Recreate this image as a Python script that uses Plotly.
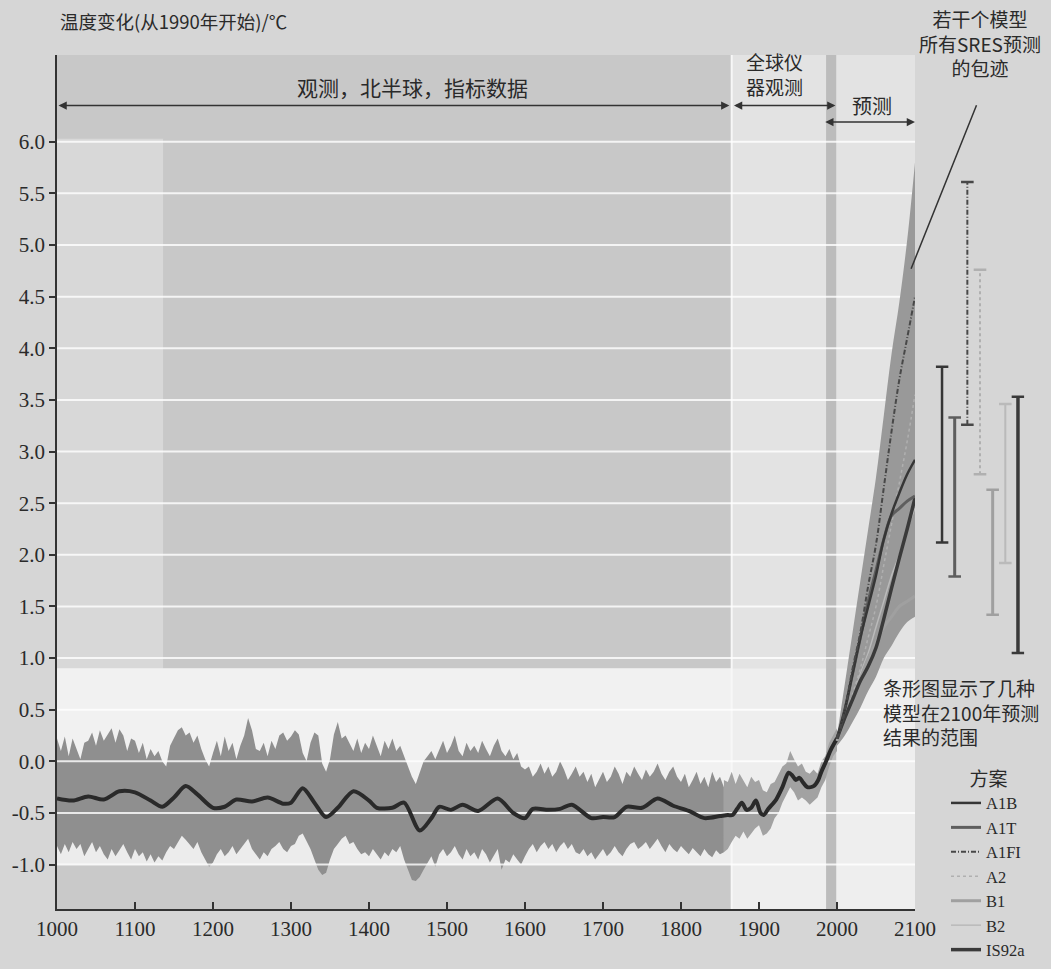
import plotly.graph_objects as go

# ---------------- data ----------------
proxy_years = list(range(1000, 1860, 5))
proxy_upper = [
    0.22, 0.10, 0.24, 0.05, 0.22, 0.12, 0.02, 0.18, 0.20, 0.28,
    0.15, 0.30, 0.20, 0.26, 0.32, 0.18, 0.31, 0.25, 0.10, 0.22,
    0.20, 0.08, 0.18, 0.02, 0.12, 0.05, 0.10, 0.00, -0.05, 0.15,
    0.22, 0.30, 0.33, 0.25, 0.28, 0.18, 0.25, 0.12, 0.02, -0.05,
    0.08, 0.20, 0.05, 0.24, 0.10, 0.18, 0.02, 0.15, 0.25, 0.42,
    0.30, 0.12, 0.10, 0.18, 0.05, 0.20, 0.12, 0.25, 0.28, 0.20,
    0.24, 0.30, 0.26, 0.08, 0.00, 0.18, 0.28, 0.25, -0.02, -0.10,
    0.02, 0.26, 0.38, 0.22, 0.25, 0.18, 0.10, 0.22, 0.08, 0.18,
    0.12, 0.25, 0.15, 0.05, 0.20, 0.12, 0.22, 0.10, 0.15, 0.05,
    -0.05, -0.15, -0.22, -0.10, 0.00, 0.05, 0.10, 0.02, 0.12, 0.20,
    0.08, 0.15, 0.25, 0.10, 0.05, 0.18, 0.10, 0.15, 0.08, 0.20,
    0.12, 0.05, 0.15, 0.22, 0.10, 0.05, 0.12, 0.02, 0.08, -0.05,
    -0.08, -0.05, -0.15, -0.10, -0.02, -0.12, -0.05, -0.15, -0.10, 0.00,
    -0.08, -0.18, -0.12, -0.05, -0.15, -0.10, -0.20, -0.12, -0.25, -0.18,
    -0.10, -0.20, -0.15, -0.05, -0.12, -0.22, -0.10, -0.15, -0.05, -0.12,
    -0.18, -0.08, -0.15, -0.10, -0.02, -0.12, -0.18, -0.10, -0.05, -0.15,
    -0.20, -0.12, -0.25, -0.18, -0.10, -0.22, -0.15, -0.25, -0.10, -0.20,
    -0.15, -0.25,
]
proxy_lower = [
    -0.82, -0.90, -0.80, -0.88, -0.78, -0.85, -0.80, -0.92, -0.85, -0.78,
    -0.88, -0.82, -0.90, -0.95, -0.85, -0.92, -0.86, -0.80, -0.88, -0.95,
    -0.85, -0.92, -0.88, -0.97, -0.90, -0.98, -0.92, -0.96, -0.88, -0.82,
    -0.85, -0.78, -0.72, -0.76, -0.80, -0.85, -0.78, -0.88, -0.95, -1.02,
    -0.98, -0.90, -0.85, -0.92, -0.88, -0.82, -0.90, -0.85, -0.80, -0.75,
    -0.85, -0.90, -0.95, -0.88, -0.92, -0.85, -0.82, -0.78, -0.85, -0.88,
    -0.82, -0.80, -0.72, -0.70, -0.78, -0.85, -0.95, -1.05, -1.10, -1.08,
    -0.95, -0.85, -0.80, -0.75, -0.72, -0.80, -0.78, -0.85, -0.90, -0.88,
    -0.92, -0.85, -0.90, -0.95, -0.88, -0.92, -0.85, -0.88, -0.82, -0.95,
    -1.05, -1.15, -1.16, -1.12, -1.05, -0.98, -0.92, -1.02, -0.90, -0.85,
    -0.92, -0.88, -0.82, -0.90, -0.95, -0.85, -0.92, -0.88, -0.95, -0.85,
    -0.90, -0.98, -0.92, -0.85, -1.05, -0.95, -0.98, -0.90, -0.95, -1.00,
    -0.92, -0.85, -0.80, -0.88, -0.82, -0.78, -0.85, -0.80, -0.88, -0.82,
    -0.78, -0.85, -0.80, -0.88, -0.90, -0.85, -0.92, -0.88, -0.95, -0.90,
    -0.85, -0.92, -0.88, -0.82, -0.88, -0.92, -0.85, -0.80, -0.78, -0.85,
    -0.82, -0.78, -0.85, -0.80, -0.75, -0.82, -0.88, -0.80, -0.85, -0.88,
    -0.82, -0.86, -0.90, -0.84, -0.88, -0.92, -0.85, -0.90, -0.93, -0.86,
    -0.90, -0.88,
]

instr_years = list(range(1855, 2005, 5))
instr_upper = [-0.18, -0.20, -0.10, -0.22, -0.12, -0.18, -0.25, -0.15, -0.20, -0.18,
               -0.28, -0.30, -0.22, -0.20, -0.12, -0.05, -0.02, 0.10, 0.02, -0.05,
               -0.02, -0.10, -0.12, -0.08, -0.12, 0.00, 0.05, 0.18, 0.25, 0.32]
instr_lower = [-0.88, -0.85, -0.78, -0.72, -0.75, -0.68, -0.75, -0.70, -0.65, -0.62,
               -0.72, -0.70, -0.65, -0.55, -0.50, -0.40, -0.32, -0.25, -0.30, -0.38,
               -0.35, -0.38, -0.42, -0.38, -0.35, -0.25, -0.18, -0.05, 0.05, 0.10]

smooth_years = [1000, 1020, 1040, 1060, 1080, 1100, 1120, 1135, 1150, 1165,
                1180, 1200, 1215, 1230, 1250, 1270, 1290, 1300, 1315, 1330,
                1345, 1360, 1380, 1400, 1410, 1430, 1445, 1465, 1480, 1490,
                1505, 1520, 1540, 1565, 1585, 1600, 1610, 1630, 1645, 1660,
                1685, 1700, 1715, 1730, 1750, 1770, 1790, 1810, 1830, 1850,
                1860, 1866, 1872, 1878, 1884, 1890, 1896, 1902, 1906, 1912,
                1922, 1930, 1938, 1943, 1947, 1952, 1956, 1962, 1970, 1976,
                1980, 1986, 1992, 2000]
smooth_vals = [-0.36, -0.38, -0.34, -0.37, -0.29, -0.30, -0.38, -0.44, -0.35, -0.24,
               -0.32, -0.45, -0.44, -0.37, -0.39, -0.35, -0.41, -0.40, -0.26, -0.40,
               -0.54, -0.45, -0.29, -0.38, -0.45, -0.45, -0.40, -0.67, -0.55, -0.44,
               -0.47, -0.42, -0.48, -0.36, -0.50, -0.55, -0.46, -0.47, -0.46, -0.42,
               -0.55, -0.54, -0.54, -0.44, -0.45, -0.36, -0.43, -0.48, -0.55, -0.53,
               -0.52, -0.52, -0.46, -0.40, -0.47, -0.45, -0.38, -0.50, -0.52, -0.46,
               -0.37, -0.25, -0.11, -0.14, -0.18, -0.16, -0.20, -0.25, -0.24, -0.18,
               -0.10, 0.00, 0.11, 0.22]

proj_years = [2000, 2010, 2020, 2030, 2040, 2050, 2060, 2070, 2080, 2090, 2100]
env_upper = [0.25, 0.75, 1.25, 1.75, 2.25, 2.75, 3.35, 3.95, 4.45, 5.05, 5.80]
env_lower = [0.15, 0.25, 0.38, 0.52, 0.68, 0.82, 1.00, 1.12, 1.25, 1.35, 1.40]

scenarios = ["A1B", "A1T", "A1FI", "A2", "B1", "B2", "IS92a"]
proj_A1B = [0.22, 0.50, 0.85, 1.20, 1.50, 1.80, 2.15, 2.40, 2.60, 2.78, 2.92]
proj_A1T = [0.22, 0.50, 0.85, 1.20, 1.55, 1.85, 2.15, 2.38, 2.45, 2.52, 2.57]
proj_A1FI = [0.22, 0.50, 0.90, 1.25, 1.70, 2.10, 2.65, 3.20, 3.70, 4.10, 4.50]
proj_A2 = [0.20, 0.40, 0.65, 0.90, 1.20, 1.50, 1.90, 2.30, 2.70, 3.10, 3.55]
proj_B1 = [0.20, 0.40, 0.60, 0.80, 1.00, 1.15, 1.30, 1.40, 1.50, 1.55, 1.60]
proj_B2 = [0.20, 0.40, 0.60, 0.85, 1.05, 1.30, 1.55, 1.80, 2.00, 2.25, 2.45]
proj_IS92a = [0.22, 0.42, 0.60, 0.78, 0.92, 1.10, 1.38, 1.68, 1.97, 2.25, 2.55]

range_low = [2.12, 1.79, 3.26, 2.78, 1.42, 1.92, 1.05]
range_high = [3.82, 3.33, 5.61, 4.76, 2.63, 3.46, 3.53]

y_tickvals = [-1.0, -0.5, 0.0, 0.5, 1.0, 1.5, 2.0, 2.5, 3.0, 3.5, 4.0, 4.5, 5.0, 5.5, 6.0]
y_ticktext = ["-1.0", "-0.5", "0.0", "0.5", "1.0", "1.5", "2.0", "2.5", "3.0", "3.5",
              "4.0", "4.5", "5.0", "5.5", "6.0"]
x_tickvals = [1000, 1100, 1200, 1300, 1400, 1500, 1600, 1700, 1800, 1900, 2000, 2100]

# ---------------- styles ----------------
styles = {
    "A1B": dict(color="#363636", width=2.5, dash="solid"),
    "A1T": dict(color="#5e5e5e", width=3.0, dash="solid"),
    "A1FI": dict(color="#484848", width=2.0, dash="5px,2px,1px,2px"),
    "A2": dict(color="#b0b0b0", width=1.5, dash="dot"),
    "B1": dict(color="#a0a0a0", width=3.0, dash="solid"),
    "B2": dict(color="#bababa", width=1.5, dash="solid"),
    "IS92a": dict(color="#3a3a3a", width=3.5, dash="solid"),
}
proj_series = {"A1B": proj_A1B, "A1T": proj_A1T, "A1FI": proj_A1FI, "A2": proj_A2,
               "B1": proj_B1, "B2": proj_B2, "IS92a": proj_IS92a}

W, H = 1051, 969
ML, MR, MT, MB = 57, 20, 55, 60
PW, PH = W - ML - MR, H - MT - MB


def pxx(x):
    return (x - ML) / PW


def pxy(y):
    return 1 - (y - MT) / PH


CJK = "Noto Sans CJK SC"
SERIF = "'Liberation Serif', 'Times New Roman', Times, serif"
TXT = "#2a2a2a"
Y0, Y1 = -1.43, 6.84
X0, X1 = 1000, 2100

fig = go.Figure()

# proxy band
fig.add_trace(go.Scatter(x=proxy_years, y=proxy_lower, mode="lines", line=dict(width=0),
                         showlegend=False, hoverinfo="skip"))
fig.add_trace(go.Scatter(x=proxy_years, y=proxy_upper, mode="lines", line=dict(width=0),
                         fill="tonexty", fillcolor="#8f8f8f", showlegend=False, hoverinfo="skip"))
# instrumental band
fig.add_trace(go.Scatter(x=instr_years, y=instr_lower, mode="lines", line=dict(width=0),
                         showlegend=False, hoverinfo="skip"))
fig.add_trace(go.Scatter(x=instr_years, y=instr_upper, mode="lines", line=dict(width=0),
                         fill="tonexty", fillcolor="#a2a2a2", showlegend=False, hoverinfo="skip"))

# white grid lines (over the bands, under the curves), built from the tick list
gx, gy = [], []
for v in y_tickvals:
    gx += [X0, X1, None]
    gy += [v, v, None]
fig.add_trace(go.Scatter(x=gx, y=gy, mode="lines", line=dict(color="rgba(255,255,255,0.8)", width=2),
                         showlegend=False, hoverinfo="skip"))

# envelope of projections
fig.add_trace(go.Scatter(x=proj_years, y=env_lower, mode="lines", line=dict(width=0, shape="spline"),
                         showlegend=False, hoverinfo="skip"))
fig.add_trace(go.Scatter(x=proj_years, y=env_upper, mode="lines", line=dict(width=0, shape="spline"),
                         fill="tonexty", fillcolor="#999999", showlegend=False, hoverinfo="skip"))

# smoothed reconstruction + instrumental
fig.add_trace(go.Scatter(x=smooth_years, y=smooth_vals, mode="lines",
                         line=dict(color="#2a2a2a", width=4, shape="spline", smoothing=0.8),
                         showlegend=False, hoverinfo="skip"))

# projection lines (legend entries)
draw_order = ["A2", "B2", "B1", "IS92a", "A1T", "A1B", "A1FI"]
for name in draw_order:
    st = styles[name]
    fig.add_trace(go.Scatter(x=proj_years, y=proj_series[name], mode="lines", name=name,
                             line=dict(color=st["color"], width=st["width"], dash=st["dash"], shape="spline"),
                             legendrank=scenarios.index(name) + 1, hoverinfo="skip"))

# range bars at 2100
for i, name in enumerate(scenarios):
    st = styles[name]
    fig.add_trace(go.Scatter(x=[name, name], y=[range_low[i], range_high[i]], xaxis="x2", yaxis="y2",
                             mode="lines+markers",
                             line=dict(color=st["color"], width=max(st["width"], 2), dash=st["dash"]),
                             marker=dict(symbol="line-ew", size=9,
                                         line=dict(color=st["color"], width=2.5)),
                             showlegend=False, hoverinfo="skip"))

# ---------------- background regions ----------------
shapes = []


def rect(x0, x1, y0, y1, color):
    shapes.append(dict(type="rect", xref="x", yref="y", x0=x0, x1=x1, y0=y0, y1=y1,
                       fillcolor=color, line=dict(width=0), layer="below"))


rect(X0, X1, Y0, Y1, "#e3e3e3")
rect(X0, 1865, 0.9, Y1, "#d8d8d8")
rect(1136, 1865, 0.9, Y1, "#c8c8c8")
rect(X0, 1865, 6.03, Y1, "#c8c8c8")
rect(X0, 1865, -1.0, 0.9, "#ececec")
rect(X0, 1865, -0.25, 0.9, "#f1f1f1")
rect(X0, 1865, Y0, -1.0, "#c9c9c9")
rect(1865, X1, Y0, 0.9, "#eeeeee")
rect(1986, 1999, Y0, Y1, "#bcbcbc")
shapes.append(dict(type="line", xref="x", yref="y", x0=1865, x1=1865, y0=Y0, y1=Y1,
                   line=dict(color="#f7f7f7", width=2), layer="below"))

# ---------------- annotations ----------------
ann = []


def text(x, y, s, size=19, anchor="center", family=CJK):
    ann.append(dict(x=pxx(x), y=pxy(y), xref="paper", yref="paper", text=s, showarrow=False,
                    xanchor=anchor, yanchor="middle", align=anchor if anchor != "center" else "center",
                    font=dict(family=family, size=size, color=TXT)))


text(58, 21, "温度变化(从1990年开始)/℃", size=18.5, anchor="left")
text(412, 87, "观测，北半球，指标数据", size=21)
text(774, 74, "全球仪<br>器观测", size=19)
text(872, 106, "预测", size=20)
text(980, 43, "若干个模型<br>所有SRES预测<br>的包迹", size=19)
text(881, 712, "条形图显示了几种<br>模型在2100年预测<br>结果的范围", size=19, anchor="left")


def darrow(xa, xb, y):
    ann.append(dict(x=xb, y=y, ax=xa, ay=y, xref="x", yref="y", axref="x", ayref="y", text="",
                    showarrow=True, arrowside="end+start", arrowhead=2, arrowsize=1.1,
                    arrowwidth=1.5, arrowcolor="#333333", standoff=0, startstandoff=0))


darrow(1000, 1862, 6.35)
darrow(1866, 1998, 6.35)
darrow(1983, 2100, 6.19)

ann.append(dict(x=2095, y=4.77, xref="x", yref="y", ax=66, ay=-165, text="", showarrow=True,
                arrowhead=0, arrowwidth=1.5, arrowcolor="#333333"))

fig.update_layout(
    width=W, height=H,
    margin=dict(l=ML, r=MR, t=MT, b=MB, pad=0, autoexpand=False),
    paper_bgcolor="#d6d6d6",
    plot_bgcolor="rgba(0,0,0,0)",
    shapes=shapes,
    annotations=ann,
    showlegend=True,
    legend=dict(
        x=pxx(946), y=pxy(761), xanchor="left", yanchor="top",
        bgcolor="rgba(0,0,0,0)", borderwidth=0,
        font=dict(family=SERIF, size=16.5, color=TXT),
        title=dict(text="方案", side="top center", font=dict(family=CJK, size=19, color=TXT)),
        tracegroupgap=0, itemwidth=30, traceorder="normal",
    ),
    xaxis=dict(
        domain=[0, (915 - ML) / PW], range=[X0, X1], tickvals=x_tickvals,
        ticks="inside", ticklen=7, tickwidth=1.5, tickcolor="#333333",
        showline=True, linecolor="#333333", linewidth=1.5, showgrid=False, zeroline=False,
        tickfont=dict(family=SERIF, size=21, color=TXT), anchor="y",
    ),
    yaxis=dict(
        range=[Y0, Y1], tickvals=y_tickvals, ticktext=y_ticktext,
        ticks="outside", ticklen=6, tickwidth=1.5, tickcolor="#333333",
        showline=True, linecolor="#333333", linewidth=1.5, showgrid=False, zeroline=False,
        tickfont=dict(family=SERIF, size=21, color=TXT), anchor="x",
    ),
    xaxis2=dict(domain=[pxx(935.7), pxx(1024.3)], type="category", categoryarray=scenarios,
                range=[-0.5, 6.5], visible=False, anchor="y2"),
    yaxis2=dict(range=[Y0, Y1], visible=False, anchor="x2"),
)

fig.write_html("out.html", config={"displayModeBar": False},
               post_script="document.body.style.margin='0';")
